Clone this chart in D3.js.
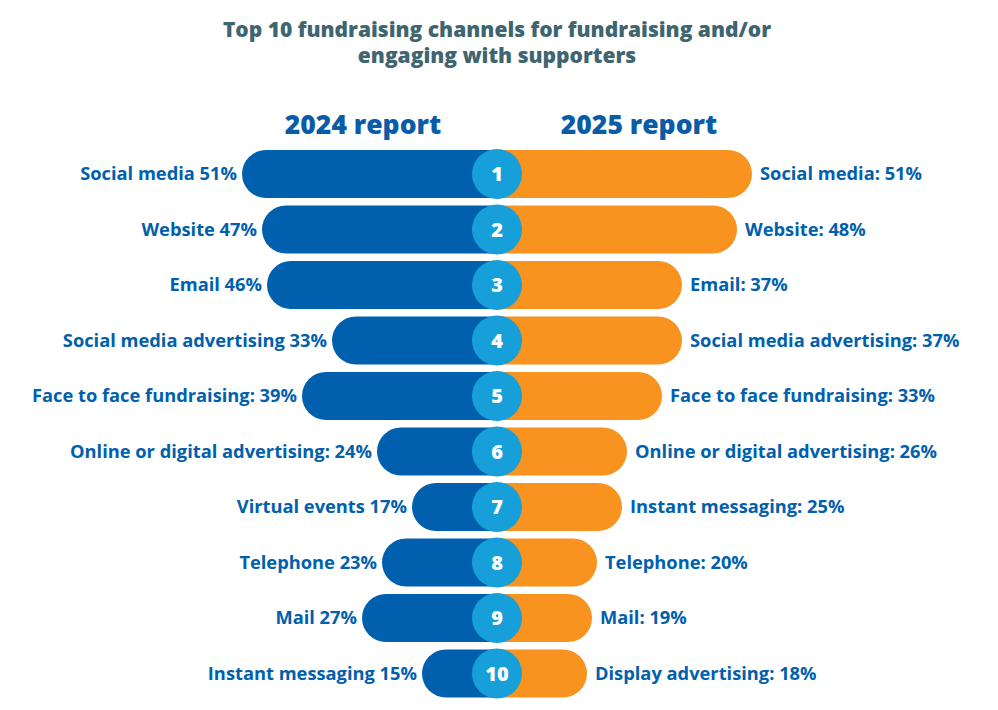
<!DOCTYPE html>
<html>
<head>
<meta charset="utf-8">
<script src="https://cdn.jsdelivr.net/npm/d3@7"></script>
<style>
  body { margin: 0; background: #fff; }
  text { font-family: "Open Sans", Roboto, sans-serif; }
</style>
</head>
<body>
<div id="chart"></div>
<script>
// data
var ranks = [1, 2, 3, 4, 5, 6, 7, 8, 9, 10];
var labels2024 = ["Social media 51%", "Website 47%", "Email 46%", "Social media advertising 33%",
  "Face to face fundraising: 39%", "Online or digital advertising: 24%", "Virtual events 17%",
  "Telephone 23%", "Mail 27%", "Instant messaging 15%"];
var values2024 = [51, 47, 46, 33, 39, 24, 17, 23, 27, 15];
var labels2025 = ["Social media: 51%", "Website: 48%", "Email: 37%", "Social media advertising: 37%",
  "Face to face fundraising: 33%", "Online or digital advertising: 26%", "Instant messaging: 25%",
  "Telephone: 20%", "Mail: 19%", "Display advertising: 18%"];
var values2025 = [51, 48, 37, 37, 33, 26, 25, 20, 19, 18];
var titleLines = ["Top 10 fundraising channels for fundraising and/or", "engaging with supporters"];
var headers = ["2024 report", "2025 report"];

var svgWidth = 998, svgHeight = 710;
var cx = 497;
var blue = "#0060ad", orange = "#f7931e", light = "#169fd9", titleColor = "#3e6570";

var svg = d3.select("#chart").append("svg")
  .attr("width", svgWidth)
  .attr("height", svgHeight);

var yScale = d3.scaleBand()
  .domain(ranks)
  .range([150, 150 + 9 * 55.5 + 48])
  .paddingInner(7.5 / 55.5)
  .paddingOuter(0);

var xScale = d3.scaleLinear()
  .domain([0, 51])
  .range([0, 255]);

var h = yScale.bandwidth(), r = h / 2;

// bar rounded on one side only
function halfPill(x0, y0, len, dir) {
  var end = x0 + dir * len;
  var p = d3.path();
  p.moveTo(x0, y0);
  p.lineTo(end - dir * r, y0);
  p.arc(end - dir * r, y0 + r, r, -Math.PI / 2, Math.PI / 2, dir < 0);
  p.lineTo(x0, y0 + h);
  p.closePath();
  return p.toString();
}

// title
svg.append("g").selectAll("text")
  .data(titleLines)
  .enter().append("text")
  .attr("x", cx)
  .attr("y", (d, i) => 37 + i * 26)
  .attr("text-anchor", "middle")
  .attr("font-size", "21px")
  .attr("font-weight", 800)
  .attr("fill", titleColor)
  .text(d => d);

svg.append("g").selectAll("text")
  .data(headers)
  .enter().append("text")
  .attr("x", (d, i) => i == 0 ? 363 : 639)
  .attr("y", 134)
  .attr("text-anchor", "middle")
  .attr("font-size", "26.5px")
  .attr("font-weight", 800)
  .attr("fill", "#0a5ca6")
  .text(d => d);

var rows = svg.append("g").selectAll("g")
  .data(ranks)
  .enter().append("g");

rows.append("path")
  .attr("d", (d, i) => halfPill(cx, yScale(d), xScale(values2024[i]), -1))
  .attr("fill", blue);

rows.append("path")
  .attr("d", (d, i) => halfPill(cx, yScale(d), xScale(values2025[i]), 1))
  .attr("fill", orange);

rows.append("circle")
  .attr("cx", cx)
  .attr("cy", d => yScale(d) + r)
  .attr("r", 25)
  .attr("fill", light);

rows.append("text")
  .attr("x", cx)
  .attr("y", d => yScale(d) + r + 7)
  .attr("text-anchor", "middle")
  .attr("font-size", "20px")
  .attr("font-weight", 800)
  .attr("fill", "#fff")
  .text(d => d);

rows.append("text")
  .attr("x", (d, i) => cx - xScale(values2024[i]) - 5)
  .attr("y", d => yScale(d) + r + 6)
  .attr("text-anchor", "end")
  .attr("font-size", "18.3px")
  .attr("font-weight", 700)
  .attr("fill", blue)
  .text((d, i) => labels2024[i]);

rows.append("text")
  .attr("x", (d, i) => cx + xScale(values2025[i]) + 8)
  .attr("y", d => yScale(d) + r + 6)
  .attr("text-anchor", "start")
  .attr("font-size", "18.3px")
  .attr("font-weight", 700)
  .attr("fill", blue)
  .text((d, i) => labels2025[i]);
</script>
</body>
</html>
